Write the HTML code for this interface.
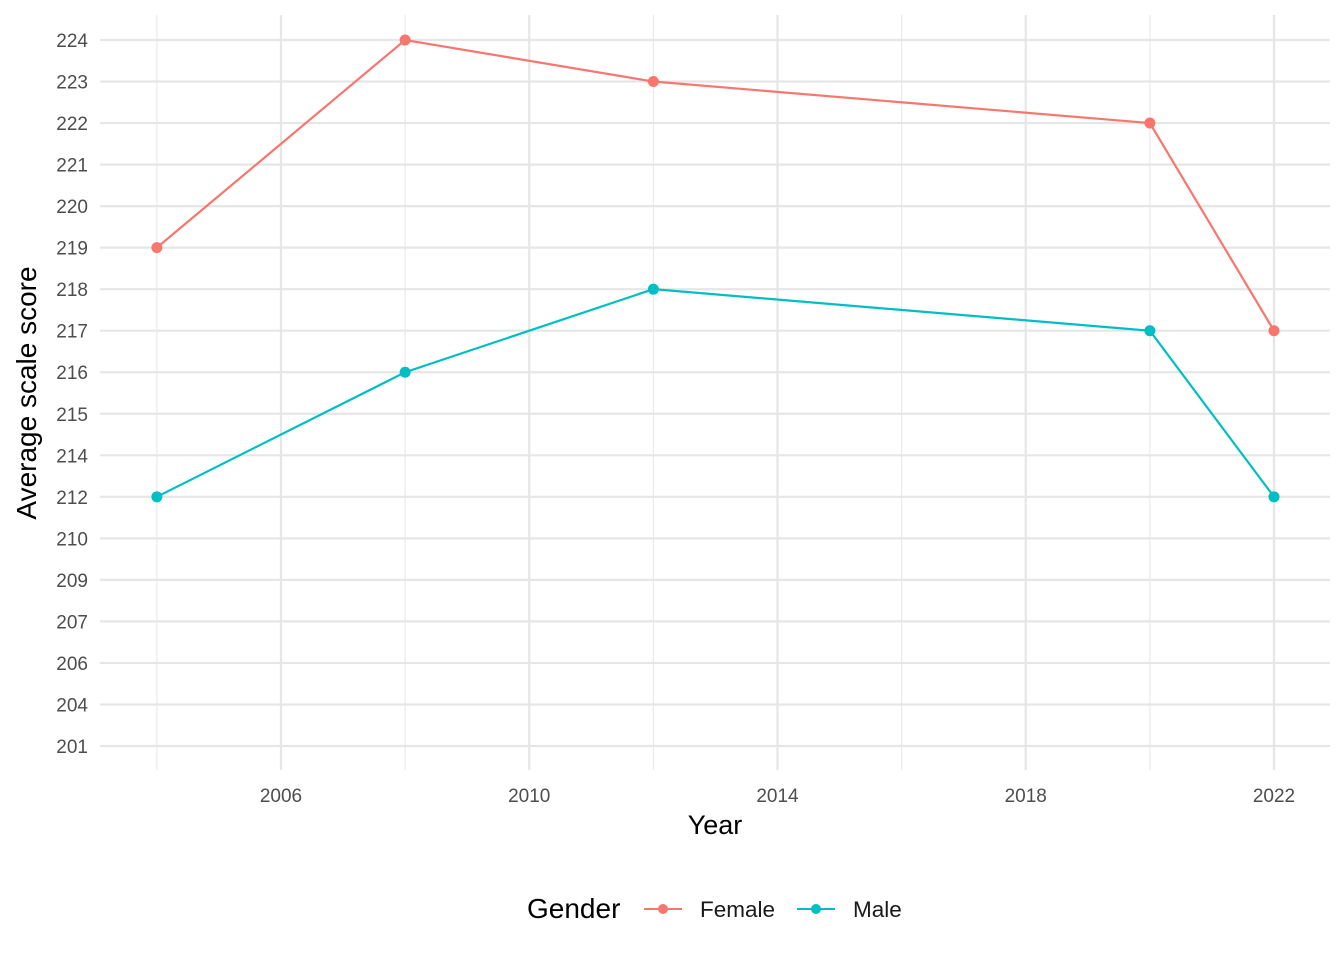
<!DOCTYPE html>
<html><head><meta charset="utf-8"><style>
body{margin:0;background:#fff;font-family:"Liberation Sans",Arial,sans-serif}
text{font-family:"Liberation Sans",Arial,sans-serif}
</style></head><body>
<svg id="chart" width="1344" height="960">
<g id="grid"></g>
<g id="axes"></g>
<g id="series"></g>
<text x="715" y="834" font-size="27" text-anchor="middle" fill="#000">Year</text>
<text transform="translate(36,393) rotate(-90)" font-size="28" text-anchor="middle" fill="#000">Average scale score</text>
<g>
<text x="527" y="918" font-size="28" fill="#000">Gender</text>
<g><line x1="644" y1="909" x2="682" y2="909" stroke="#F8766D" stroke-width="2"/><circle cx="663" cy="909" r="5" fill="#F8766D"/><text x="700" y="917" font-size="22.5" fill="#1a1a1a">Female</text></g>
<g><line x1="797" y1="909" x2="835" y2="909" stroke="#00BFC4" stroke-width="2"/><circle cx="816" cy="909" r="5" fill="#00BFC4"/><text x="853" y="917" font-size="22.5" fill="#1a1a1a">Male</text></g>
</g>
</svg>
<script>
const yLevels=[201,204,206,207,209,210,212,214,215,216,217,218,219,220,221,222,223,224];
const xMajor=[2006,2010,2014,2018,2022];
const xMinor=[2004,2008,2012,2016,2020];
const years=[2004,2008,2012,2020,2022];
const female=[219,224,223,222,217];
const male=[212,216,218,217,212];
const NS="http://www.w3.org/2000/svg";
function X(v){return 281+(v-2006)*(1274-281)/16;}
function Y(v){const i=yLevels.indexOf(v);return 746-i*(746-40)/(yLevels.length-1);}
function mk(tag,attrs,parent){const e=document.createElementNS(NS,tag);for(const k in attrs)e.setAttribute(k,attrs[k]);parent.appendChild(e);return e;}
const grid=document.getElementById('grid'),axes=document.getElementById('axes'),ser=document.getElementById('series');
xMinor.forEach(v=>{const l=mk('line',{x1:X(v),x2:X(v),y1:15,y2:770,stroke:'#e8e8e8','stroke-width':1.1},grid);

});
xMajor.forEach(v=>{const l=mk('line',{x1:X(v),x2:X(v),y1:15,y2:770,stroke:'#e6e6e6','stroke-width':2.2},grid);


const t=mk('text',{x:X(v),y:802,'font-size':19,'text-anchor':'middle',fill:'#4d4d4d'},axes);t.textContent=v;

});
yLevels.forEach(v=>{const l=mk('line',{x1:100,x2:1330,y1:Y(v),y2:Y(v),stroke:'#e6e6e6','stroke-width':2.2},grid);


const t=mk('text',{x:88,y:Y(v)+7,'font-size':19,'text-anchor':'end',fill:'#4d4d4d'},axes);t.textContent=v;

});
function draw(vals,color,name){
const p=mk('polyline',{points:years.map((y,i)=>X(y)+','+Y(vals[i])).join(' '),fill:'none',stroke:color,'stroke-width':2.2},ser);


years.forEach((y,i)=>{const c=mk('circle',{cx:X(y),cy:Y(vals[i]),r:5.5,fill:color},ser);

});}
draw(female,'#F8766D','female');
draw(male,'#00BFC4','male');
</script>
</body></html>
